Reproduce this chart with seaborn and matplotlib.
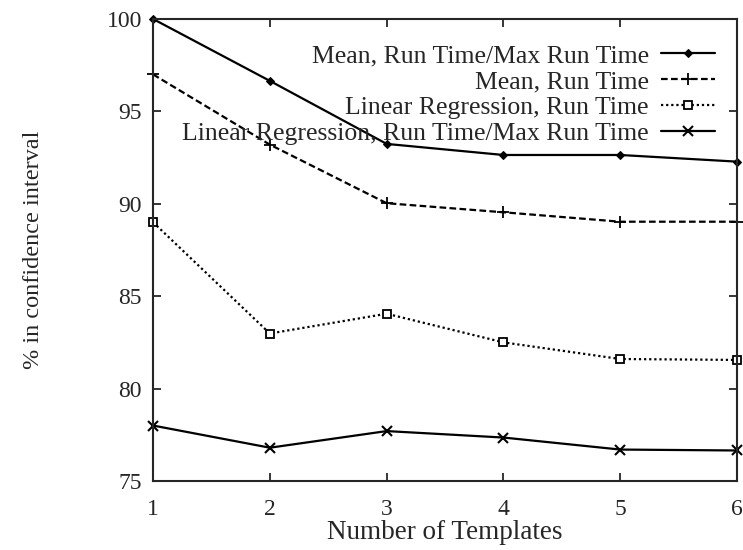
import seaborn as sns
import pandas as pd
import numpy as np
import matplotlib
matplotlib.use("Agg")
import matplotlib.pyplot as plt

# values
templates = [1, 2, 3, 4, 5, 6]
mean_ratio = [100.0, 96.65, 93.24, 92.64, 92.64, 92.28]
mean_rt = [97.0, 93.2, 90.03, 89.54, 89.03, 89.03]
linreg_rt = [89.0, 82.98, 84.05, 82.5, 81.6, 81.55]
linreg_ratio = [78.0, 76.8, 77.7, 77.35, 76.7, 76.65]

labels = [
    "Mean, Run Time/Max Run Time",
    "Mean, Run Time",
    "Linear Regression, Run Time",
    "Linear Regression, Run Time/Max Run Time",
]

sns.set_style("ticks")
plt.rcParams["font.family"] = ["Liberation Serif", "DejaVu Serif"]
plt.rcParams["font.size"] = 17

fig = plt.figure(figsize=(7.43, 5.5), dpi=100)
ax = fig.add_axes([0.206, 0.1255, 0.786, 0.84])

styles = [
    dict(linestyle="-", marker="D", markersize=4.5, markerfacecolor="black"),
    dict(linestyle=(0, (3, 1.5)), marker="+", markersize=8, markeredgewidth=1.3),
    dict(linestyle=(0, (1, 1.3)), marker="s", markersize=6, markerfacecolor="white",
         markeredgewidth=1.3),
    dict(linestyle="-", marker="x", markersize=7, markeredgewidth=1.5),
]
series = [mean_ratio, mean_rt, linreg_rt, linreg_ratio]

for vals, lab, st in zip(series, labels, styles):
    sns.lineplot(x=templates, y=vals, ax=ax, color="black", linewidth=1.6,
                 markeredgecolor="black", label=lab, clip_on=False, **st)

ax.set_xlim(1, 6)
ax.set_ylim(75, 100)
ax.set_xticks(templates)
ax.set_yticks(np.arange(75, 101, 5))
ax.tick_params(direction="in", length=6, width=1.3, top=True, right=True,
               labelsize=17, pad=8)
ax.tick_params(axis="x", pad=13)
for sp in ax.spines.values():
    sp.set_linewidth(1.5)
    sp.set_visible(True)

ax.set_xlabel("Number of Templates", fontsize=19.5, labelpad=0)
ax.set_ylabel("% in confidence interval", fontsize=17.5, labelpad=45)

leg = ax.legend(loc="upper right", bbox_to_anchor=(0.985, 0.973), frameon=False,
                markerfirst=False, handlelength=2.1, handletextpad=0.5,
                labelspacing=0.12, borderpad=0, fontsize=18.5)

fig.savefig("out.png", dpi=100)
